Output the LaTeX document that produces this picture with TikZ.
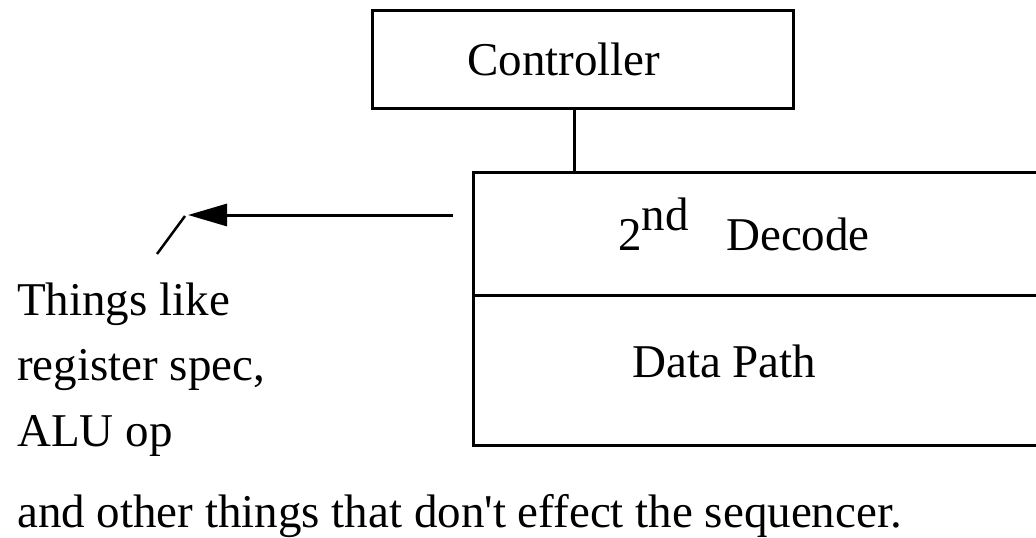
\documentclass[tikz,border=0pt]{standalone}
\usepackage{fontspec}
\setmainfont{Liberation Serif}
\usetikzlibrary{arrows.meta}
\begin{document}
\begin{tikzpicture}[x=1pt,y=-1pt,
  box/.style={draw,line width=3pt,inner sep=0pt},
  wire/.style={line width=3pt},
  lbl/.style={anchor=base west,inner sep=0pt,font=\fontsize{47}{56}\selectfont}]
\useasboundingbox (0,0) rectangle (1036,538);
\clip (0,0) rectangle (1036,538);

% controller block
\draw[box] (372,10) rectangle (793,108);
\coordinate (ctrlS) at (574,108);
\node[lbl] (ctrl) at (467,75) {Controller};

% decode / data path block (runs off the right edge)
\draw[box] (473,172) rectangle (1060,445);
\draw[wire] (473,295) -- (1060,295);
\coordinate (decN) at (574,172);
\node[lbl] (two) at (618,250) {2};
\node[lbl] (nd) at (641.5,230) {nd};
\node[lbl] (dec) at (726,250) {Decode};
\node[lbl] (dp) at (632,377) {Data Path};

\draw[wire] (ctrlS) -- (decN);

% arrow out of the decoder
\coordinate (arrS) at (453,215);
\coordinate (arrE) at (188,215);
\coordinate (tick) at (157,254);
\draw[wire,-{Triangle[length=39pt,width=22pt]}] (arrS) -- (arrE);
\draw[line width=2.5pt] (185,216) -- (tick);

% side notes
\node[lbl] (t1) at (17,315) {Things like};
\node[lbl] (t2) at (17,380) {register spec,};
\node[lbl] (t3) at (17,446) {ALU op};
\node[lbl] (t4) at (17,527) {and other things that don\textquotesingle t effect the sequencer.};
\end{tikzpicture}
\end{document}
